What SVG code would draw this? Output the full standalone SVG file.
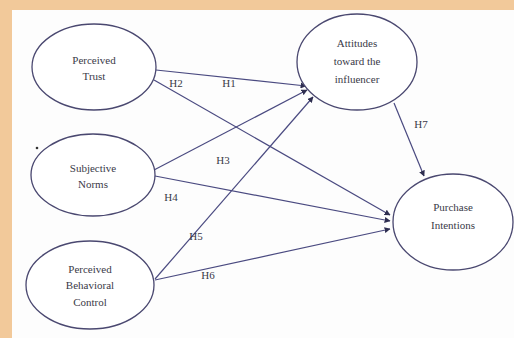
<svg xmlns="http://www.w3.org/2000/svg" width="514" height="338" viewBox="0 0 514 338">
<style>
.node ellipse{fill:#ffffff;stroke:#4a4870;stroke-width:1.3}
.node text{font-family:"Liberation Serif","Times New Roman",serif;font-size:11px;fill:#3a3a48;text-anchor:middle}
.edge line{stroke:#4a4a80;stroke-width:1.2}
.lbl{font-family:"Liberation Serif","Times New Roman",serif;font-size:11px;fill:#3a3a48;text-anchor:middle}
</style>
<defs>
<marker id="arr" viewBox="0 0 10 10" refX="9" refY="5" markerWidth="6" markerHeight="6" markerUnits="userSpaceOnUse" orient="auto">
<path d="M0,0 L10,5 L0,10 z" fill="#2e2e50"/>
</marker>
</defs>
<rect x="0" y="0" width="514" height="338" fill="#f2c99a"/>
<rect x="12" y="10" width="502" height="328" fill="#fdfdfd"/>
<circle cx="37" cy="148" r="1.3" fill="#333"/>

<g id="connectors" class="edge">
<line x1="156" y1="70" x2="306" y2="86" marker-end="url(#arr)"/>
<line x1="154" y1="80" x2="390" y2="215" marker-end="url(#arr)"/>
<line x1="154" y1="170" x2="307" y2="90" marker-end="url(#arr)"/>
<line x1="155" y1="176" x2="390" y2="221" marker-end="url(#arr)"/>
<line x1="155" y1="279" x2="313" y2="97" marker-end="url(#arr)"/>
<line x1="155" y1="280" x2="390" y2="229" marker-end="url(#arr)"/>
<line x1="394" y1="103" x2="424" y2="176" marker-end="url(#arr)"/>
</g>
<g id="labels">
<text class="lbl" x="176" y="87">H2</text>
<text class="lbl" x="229" y="87">H1</text>
<text class="lbl" x="223" y="164">H3</text>
<text class="lbl" x="171" y="201">H4</text>
<text class="lbl" x="196" y="240">H5</text>
<text class="lbl" x="208" y="279">H6</text>
<text class="lbl" x="421" y="128">H7</text>
</g>

<g id="perceived-trust" class="node">
<ellipse cx="94" cy="67" rx="62" ry="43"/>
<text x="94" y="64">Perceived</text>
<text x="94" y="80">Trust</text>
</g>
<g id="subjective-norms" class="node">
<ellipse cx="93" cy="175" rx="62" ry="41"/>
<text x="93" y="172">Subjective</text>
<text x="93" y="188">Norms</text>
</g>
<g id="perceived-behavioral-control" class="node">
<ellipse cx="90" cy="285" rx="64" ry="44"/>
<text x="90" y="273">Perceived</text>
<text x="90" y="289">Behavioral</text>
<text x="90" y="306">Control</text>
</g>
<g id="attitudes" class="node">
<ellipse cx="357" cy="62" rx="60" ry="48"/>
<text x="357" y="47">Attitudes</text>
<text x="357" y="65">toward the</text>
<text x="357" y="83">influencer</text>
</g>
<g id="purchase-intentions" class="node">
<ellipse cx="453" cy="222" rx="60" ry="48"/>
<text x="453" y="211">Purchase</text>
<text x="453" y="229">Intentions</text>
</g>
</svg>
